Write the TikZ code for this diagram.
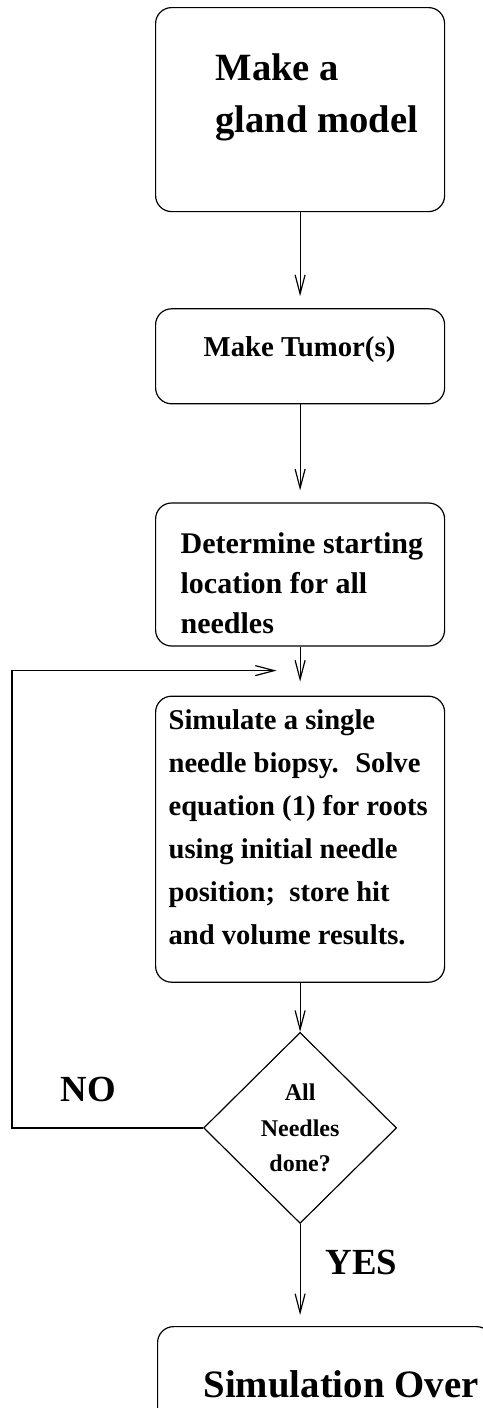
\documentclass[tikz,border=0pt]{standalone}
\usepackage{fontspec}
\setmainfont{Liberation Serif}
\usetikzlibrary{positioning,arrows.meta,shapes.geometric,calc}

\begin{document}
\begin{tikzpicture}[
  x=0.5pt, y=-0.5pt,
  line width=0.6pt,
  blk/.style={draw, rounded corners=8pt, minimum width=144.5pt, inner sep=0pt},
  chkbox/.style={draw, diamond, aspect=1, minimum width=96.5pt, minimum height=95.5pt,
                 inner sep=0pt, align=center, font=\bfseries\fontsize{12}{17.75}\selectfont},
  txt/.style={anchor=north west, inner sep=0pt, align=left},
  lbl/.style={inner sep=0pt, font=\bfseries\fontsize{18.4}{22}\selectfont},
  >={Straight Barb[length=9.5pt,width=5pt]},
  flow/.style={->, shorten >=6pt}
]
  \useasboundingbox (0,0) rectangle (482,1408);

  % --- boxes down the middle
  \node[blk, minimum height=102pt, anchor=north west] (gland) at (155,7) {};
  \node[blk, minimum height=47.5pt] (tumor) [below=48pt of gland] {};
  \node[blk, minimum height=71.5pt] (start) [below=49pt of tumor] {};
  \node[blk, minimum height=143pt] (sim) [below=24.5pt of start] {};
  \node[chkbox] (chk) [below=24.5pt of sim] {All\\Needles\\done?};
  \node[blk, minimum width=167.5pt, minimum height=60pt, anchor=north west] (over) at (157,1326) {};

  % --- box texts
  \node[txt, font=\bfseries\fontsize{19.3}{26}\selectfont] (gtxt)
       at ($(gland.north west)+(60,46)$) {Make a\\gland model};
  \node[txt, font=\bfseries\fontsize{14.4}{20}\selectfont] (ttxt)
       at ($(tumor.north west)+(48,28)$) {Make Tumor(s)};
  \node[txt, font=\bfseries\fontsize{15}{20}\selectfont] (dtxt)
       at ($(start.north west)+(25,30)$) {Determine starting\\location for all\\needles};
  \node[txt, font=\bfseries\fontsize{14.3}{21.5}\selectfont] (stxt)
       at ($(sim.north west)+(13,13)$)
       {Simulate a single\\needle biopsy.~ Solve\\equation (1) for roots\\using initial needle\\position;~ store hit\\and volume results.};
  \node[txt, font=\bfseries\fontsize{19.4}{24}\selectfont] (otxt)
       at ($(over.north west)+(46,44)$) {Simulation Over};

  % --- connectors
  \draw[flow] (gland) -- (tumor);
  \draw[flow] (tumor) -- (start);
  \draw[flow, shorten >=7pt] (start) -- (sim);
  \draw[->] (sim) -- (chk);
  \draw[flow, shorten >=5.5pt] (chk.south) -- node[lbl, pos=0.38, right=12.5pt] {YES} (chk.south |- over.north);

  % --- loop back
  \coordinate (edge) at (12,0);
  \coordinate (back) at ([xshift=-11.75pt, yshift=12.5pt]sim.north);
  \draw[->] (chk.west) -- node[lbl, pos=0.6, above=12.5pt] {NO} (chk.west -| edge) |- (back);
\end{tikzpicture}
\end{document}
